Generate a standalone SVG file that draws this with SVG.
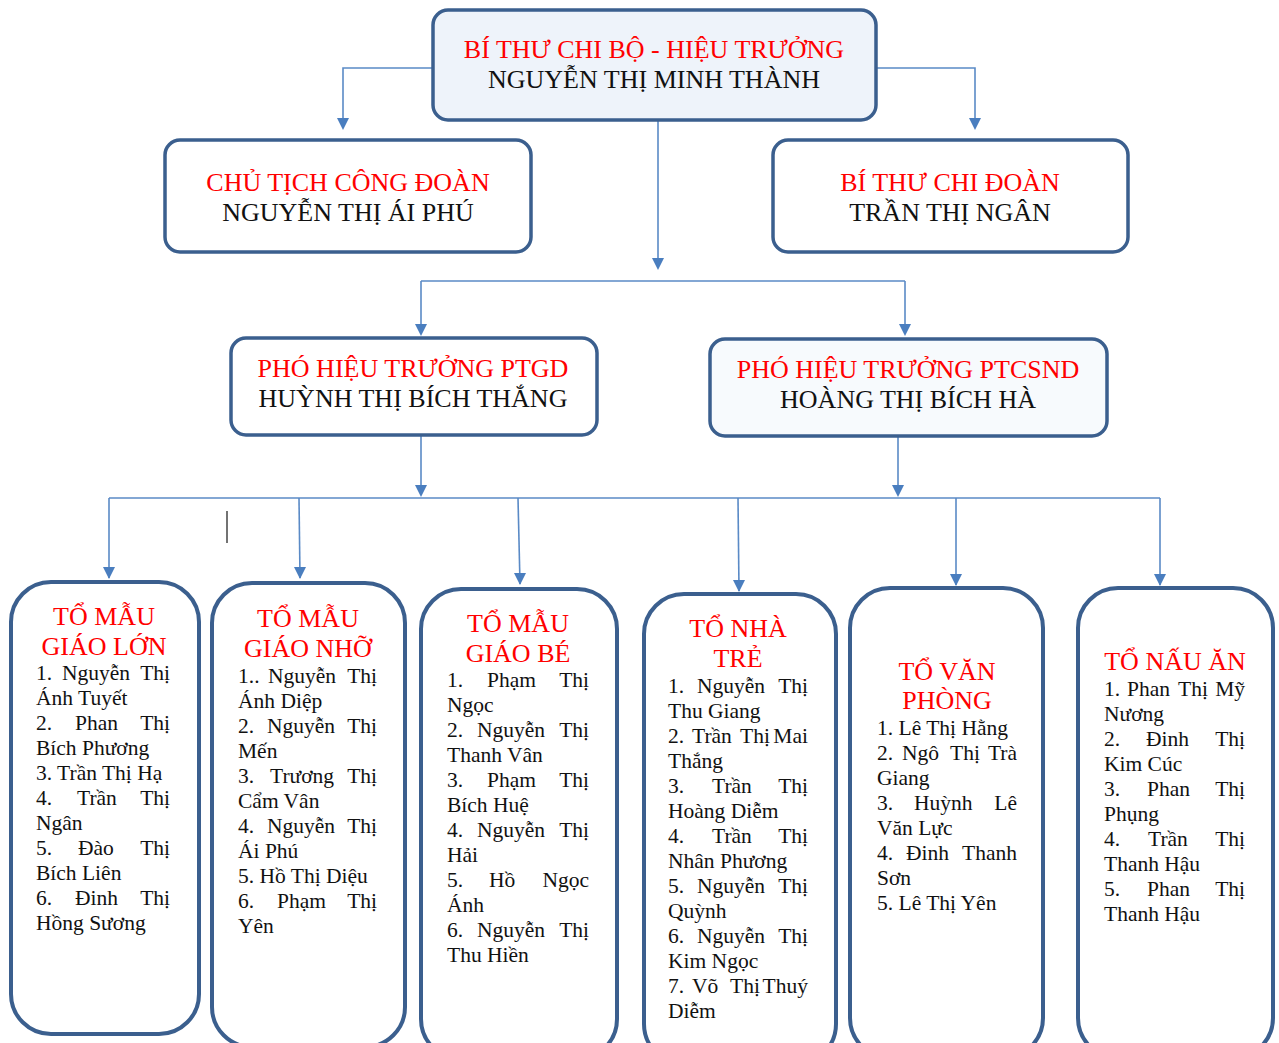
<svg xmlns="http://www.w3.org/2000/svg" width="1279" height="1043" viewBox="0 0 1279 1043">
<defs>
<marker id="arr" markerUnits="userSpaceOnUse" markerWidth="14" markerHeight="14" refX="6" refY="12" orient="auto-start-reverse" viewBox="0 0 12 12">
<path d="M0,0 L12,0 L6,12 Z" fill="#4A7EBF" transform="rotate(0)"/>
</marker>
<style>
.box{stroke:#3B5F8E;stroke-width:3.5;fill:#fff}
.big{stroke:#3B5F8E;stroke-width:4;fill:#fff}
.con{stroke:#5A8AC6;stroke-width:1.6;fill:none}
.t{font-family:"Liberation Serif","Times New Roman",serif;font-size:26px;text-anchor:middle}
.r{fill:#FF0000}
.k{fill:#111}
.b{font-family:"Liberation Serif","Times New Roman",serif;font-size:21.5px;fill:#111}
.e{text-anchor:end}
</style>
</defs>

<g id="connectors">
<path class="con" d="M433,68 H343 V128"/>
<path class="con" d="M876,68 H975 V128"/>
<path class="con" d="M658,121 V268"/>
<path class="con" d="M421,281 H905"/>
<path class="con" d="M421,281 V334"/>
<path class="con" d="M905,281 V334"/>
<path class="con" d="M421,436 V495"/>
<path class="con" d="M898,437 V495"/>
<path class="con" d="M109,498 H1160"/>
<path class="con" d="M109,498 V578"/>
<path class="con" d="M299,498 L300,578"/>
<path class="con" d="M518,498 L520,584"/>
<path class="con" d="M738,498 L739,591"/>
<path class="con" d="M956,498 V585"/>
<path class="con" d="M1160,498 V585"/>
<g fill="#4A7EBF">
<path d="M337,118 H349 L343,130 Z"/>
<path d="M969,118 H981 L975,130 Z"/>
<path d="M652,258 H664 L658,270 Z"/>
<path d="M415,324 H427 L421,336 Z"/>
<path d="M899,324 H911 L905,336 Z"/>
<path d="M415,485 H427 L421,497 Z"/>
<path d="M892,485 H904 L898,497 Z"/>
<path d="M103,567 H115 L109,579 Z"/>
<path d="M294,567 H306 L300,579 Z"/>
<path d="M514,573 H526 L520,585 Z"/>
<path d="M733,580 H745 L739,592 Z"/>
<path d="M950,574 H962 L956,586 Z"/>
<path d="M1154,574 H1166 L1160,586 Z"/>
</g>
</g>

<line x1="227" y1="511" x2="227" y2="543" stroke="#444" stroke-width="1.5"/>

<g id="hieu-truong">
<rect class="box" x="433" y="10" width="443" height="110" rx="15" style="fill:#EEF3FA"/>
<text class="t r" x="654" y="58">BÍ THƯ CHI BỘ - HIỆU TRƯỞNG</text>
<text class="t k" x="654" y="88">NGUYỄN THỊ MINH THÀNH</text>
</g>

<g id="chu-tich-cong-doan">
<rect class="box" x="165" y="140" width="366" height="112" rx="15"/>
<text class="t r" x="348" y="191">CHỦ TỊCH CÔNG ĐOÀN</text>
<text class="t k" x="348" y="221">NGUYỄN THỊ ÁI PHÚ</text>
</g>

<g id="bi-thu-chi-doan">
<rect class="box" x="773" y="140" width="355" height="112" rx="15"/>
<text class="t r" x="950" y="191">BÍ THƯ CHI ĐOÀN</text>
<text class="t k" x="950" y="221">TRẦN THỊ NGÂN</text>
</g>

<g id="pht-ptgd">
<rect class="box" x="231" y="338" width="366" height="97" rx="15"/>
<text class="t r" x="413" y="377">PHÓ HIỆU TRƯỞNG PTGD</text>
<text class="t k" x="413" y="407">HUỲNH THỊ BÍCH THẮNG</text>
</g>

<g id="pht-ptcsnd">
<rect class="box" x="710" y="339" width="397" height="97" rx="15" style="fill:#F7FAFD"/>
<text class="t r" x="908" y="378">PHÓ HIỆU TRƯỞNG PTCSND</text>
<text class="t k" x="908" y="408">HOÀNG THỊ BÍCH HÀ</text>
</g>

<g id="to-mau-giao-lon">
<rect class="big" x="11" y="582" width="188" height="452" rx="40"/>
<text class="t r" x="104" y="625">TỔ MẪU</text>
<text class="t r" x="104" y="655">GIÁO LỚN</text>
<text class="b"><tspan x="36" y="680">1.</tspan><tspan x="62" y="680">Nguyễn</tspan><tspan class="e" x="170" y="680">Thị</tspan></text>
<text class="b" x="36" y="705">Ánh Tuyết</text>
<text class="b"><tspan x="36" y="730">2.</tspan><tspan x="75" y="730">Phan</tspan><tspan class="e" x="170" y="730">Thị</tspan></text>
<text class="b" x="36" y="755">Bích Phương</text>
<text class="b" x="36" y="780">3. Trần Thị Hạ</text>
<text class="b"><tspan x="36" y="805">4.</tspan><tspan x="77" y="805">Trần</tspan><tspan class="e" x="170" y="805">Thị</tspan></text>
<text class="b" x="36" y="830">Ngân</text>
<text class="b"><tspan x="36" y="855">5.</tspan><tspan x="78" y="855">Đào</tspan><tspan class="e" x="170" y="855">Thị</tspan></text>
<text class="b" x="36" y="880">Bích Liên</text>
<text class="b"><tspan x="36" y="905">6.</tspan><tspan x="75" y="905">Đinh</tspan><tspan class="e" x="170" y="905">Thị</tspan></text>
<text class="b" x="36" y="930">Hồng Sương</text>
</g>

<g id="to-mau-giao-nho">
<rect class="big" x="212" y="583" width="193" height="464" rx="40"/>
<text class="t r" x="308" y="627">TỔ MẪU</text>
<text class="t r" x="308" y="657">GIÁO NHỠ</text>
<text class="b"><tspan x="238" y="683">1..</tspan><tspan x="268" y="683">Nguyễn</tspan><tspan class="e" x="377" y="683">Thị</tspan></text>
<text class="b" x="238" y="708">Ánh Diệp</text>
<text class="b"><tspan x="238" y="733">2.</tspan><tspan x="267" y="733">Nguyễn</tspan><tspan class="e" x="377" y="733">Thị</tspan></text>
<text class="b" x="238" y="758">Mến</text>
<text class="b"><tspan x="238" y="783">3.</tspan><tspan x="270" y="783">Trương</tspan><tspan class="e" x="377" y="783">Thị</tspan></text>
<text class="b" x="238" y="808">Cẩm Vân</text>
<text class="b"><tspan x="238" y="833">4.</tspan><tspan x="267" y="833">Nguyễn</tspan><tspan class="e" x="377" y="833">Thị</tspan></text>
<text class="b" x="238" y="858">Ái Phú</text>
<text class="b" x="238" y="883">5. Hồ Thị Diệu</text>
<text class="b"><tspan x="238" y="908">6.</tspan><tspan x="277" y="908">Phạm</tspan><tspan class="e" x="377" y="908">Thị</tspan></text>
<text class="b" x="238" y="933">Yên</text>
</g>

<g id="to-mau-giao-be">
<rect class="big" x="421" y="589" width="196" height="470" rx="40"/>
<text class="t r" x="518" y="632">TỔ MẪU</text>
<text class="t r" x="518" y="662">GIÁO BÉ</text>
<text class="b"><tspan x="447" y="687">1.</tspan><tspan x="487" y="687">Phạm</tspan><tspan class="e" x="589" y="687">Thị</tspan></text>
<text class="b" x="447" y="712">Ngọc</text>
<text class="b"><tspan x="447" y="737">2.</tspan><tspan x="477" y="737">Nguyễn</tspan><tspan class="e" x="589" y="737">Thị</tspan></text>
<text class="b" x="447" y="762">Thanh Vân</text>
<text class="b"><tspan x="447" y="787">3.</tspan><tspan x="487" y="787">Phạm</tspan><tspan class="e" x="589" y="787">Thị</tspan></text>
<text class="b" x="447" y="812">Bích Huệ</text>
<text class="b"><tspan x="447" y="837">4.</tspan><tspan x="477" y="837">Nguyễn</tspan><tspan class="e" x="589" y="837">Thị</tspan></text>
<text class="b" x="447" y="862">Hải</text>
<text class="b"><tspan x="447" y="887">5.</tspan><tspan x="489" y="887">Hồ</tspan><tspan class="e" x="589" y="887">Ngọc</tspan></text>
<text class="b" x="447" y="912">Ánh</text>
<text class="b"><tspan x="447" y="937">6.</tspan><tspan x="477" y="937">Nguyễn</tspan><tspan class="e" x="589" y="937">Thị</tspan></text>
<text class="b" x="447" y="962">Thu Hiền</text>
</g>

<g id="to-nha-tre">
<rect class="big" x="644" y="594" width="192" height="470" rx="40"/>
<text class="t r" x="738" y="637">TỔ NHÀ</text>
<text class="t r" x="738" y="667">TRẺ</text>
<text class="b"><tspan x="668" y="693">1.</tspan><tspan x="697" y="693">Nguyễn</tspan><tspan class="e" x="808" y="693">Thị</tspan></text>
<text class="b" x="668" y="718">Thu Giang</text>
<text class="b"><tspan x="668" y="743">2.</tspan><tspan x="692" y="743">Trần</tspan><tspan x="740" y="743">Thị</tspan><tspan class="e" x="808" y="743">Mai</tspan></text>
<text class="b" x="668" y="768">Thắng</text>
<text class="b"><tspan x="668" y="793">3.</tspan><tspan x="712" y="793">Trần</tspan><tspan class="e" x="808" y="793">Thị</tspan></text>
<text class="b" x="668" y="818">Hoàng Diễm</text>
<text class="b"><tspan x="668" y="843">4.</tspan><tspan x="712" y="843">Trần</tspan><tspan class="e" x="808" y="843">Thị</tspan></text>
<text class="b" x="668" y="868">Nhân Phương</text>
<text class="b"><tspan x="668" y="893">5.</tspan><tspan x="697" y="893">Nguyễn</tspan><tspan class="e" x="808" y="893">Thị</tspan></text>
<text class="b" x="668" y="918">Quỳnh</text>
<text class="b"><tspan x="668" y="943">6.</tspan><tspan x="697" y="943">Nguyễn</tspan><tspan class="e" x="808" y="943">Thị</tspan></text>
<text class="b" x="668" y="968">Kim Ngọc</text>
<text class="b"><tspan x="668" y="993">7.</tspan><tspan x="692" y="993">Võ</tspan><tspan x="730" y="993">Thị</tspan><tspan class="e" x="808" y="993">Thuý</tspan></text>
<text class="b" x="668" y="1018">Diễm</text>
</g>

<g id="to-van-phong">
<rect class="big" x="850" y="588" width="193" height="470" rx="40"/>
<text class="t r" x="947" y="680">TỔ VĂN</text>
<text class="t r" x="947" y="709">PHÒNG</text>
<text class="b" x="877" y="735">1. Lê Thị Hằng</text>
<text class="b"><tspan x="877" y="760">2.</tspan><tspan x="902" y="760">Ngô</tspan><tspan x="950" y="760">Thị</tspan><tspan class="e" x="1017" y="760">Trà</tspan></text>
<text class="b" x="877" y="785">Giang</text>
<text class="b"><tspan x="877" y="810">3.</tspan><tspan x="914" y="810">Huỳnh</tspan><tspan class="e" x="1017" y="810">Lê</tspan></text>
<text class="b" x="877" y="835">Văn Lực</text>
<text class="b"><tspan x="877" y="860">4.</tspan><tspan x="906" y="860">Đinh</tspan><tspan class="e" x="1017" y="860">Thanh</tspan></text>
<text class="b" x="877" y="885">Sơn</text>
<text class="b" x="877" y="910">5. Lê Thị Yên</text>
</g>

<g id="to-nau-an">
<rect class="big" x="1078" y="588" width="195" height="470" rx="40"/>
<text class="t r" x="1175" y="670">TỔ NẤU ĂN</text>
<text class="b"><tspan x="1104" y="696">1.</tspan><tspan x="1127" y="696">Phan</tspan><tspan x="1178" y="696">Thị</tspan><tspan class="e" x="1245" y="696">Mỹ</tspan></text>
<text class="b" x="1104" y="721">Nương</text>
<text class="b"><tspan x="1104" y="746">2.</tspan><tspan x="1146" y="746">Đinh</tspan><tspan class="e" x="1245" y="746">Thị</tspan></text>
<text class="b" x="1104" y="771">Kim Cúc</text>
<text class="b"><tspan x="1104" y="796">3.</tspan><tspan x="1147" y="796">Phan</tspan><tspan class="e" x="1245" y="796">Thị</tspan></text>
<text class="b" x="1104" y="821">Phụng</text>
<text class="b"><tspan x="1104" y="846">4.</tspan><tspan x="1148" y="846">Trần</tspan><tspan class="e" x="1245" y="846">Thị</tspan></text>
<text class="b" x="1104" y="871">Thanh Hậu</text>
<text class="b"><tspan x="1104" y="896">5.</tspan><tspan x="1147" y="896">Phan</tspan><tspan class="e" x="1245" y="896">Thị</tspan></text>
<text class="b" x="1104" y="921">Thanh Hậu</text>
</g>
</svg>
